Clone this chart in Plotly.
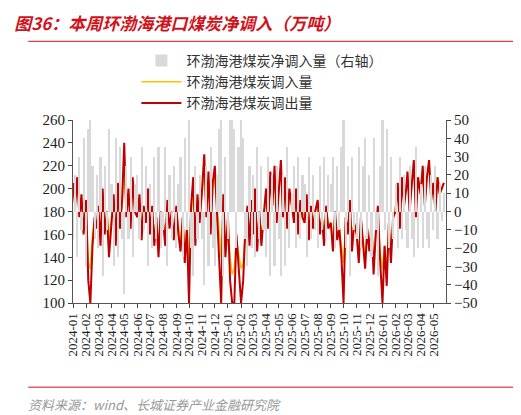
import pandas as pd
import plotly.graph_objects as go

months = pd.date_range("2024-01-01", "2026-05-01", freq="MS")
dates = [m + pd.Timedelta(days=d) for m in months for d in (0, 5, 10, 15, 20, 25)]

coal_out = [205, 185, 210, 175, 195, 160,
            190, 120, 100, 150, 175, 165,
            185, 150, 200, 160, 180, 140,
            170, 195, 150, 205, 165, 190,
            240, 175, 200, 165, 210, 180,
            175, 195, 155, 185, 170, 200,
            160, 185, 150, 175, 140, 180,
            170, 150, 190, 165, 180, 155,
            185, 160, 145, 175, 135, 165,
            100, 185, 210, 150, 195, 170,
            200, 230, 175, 215, 160, 205,
            220, 180, 150, 100, 195, 140,
            175, 120, 100, 100, 160, 135,
            100, 120, 165, 185, 150, 190,
            160, 200, 145, 180, 150, 175,
            200, 165, 215, 185, 220, 170,
            195, 225, 175, 210, 165, 200,
            185, 170, 200, 160, 190, 175,
            170, 195, 155, 185, 165, 180,
            190, 160, 175, 150, 185, 165,
            170, 145, 180, 155, 165, 140,
            100, 175, 160, 190, 145, 170,
            160, 135, 175, 150, 130, 165,
            145, 170, 125, 160, 185, 140,
            100, 150, 115, 170, 135, 175,
            180, 205, 165, 210, 185, 200,
            215, 180, 205, 225, 175, 210,
            195, 220, 185, 210, 225, 190,
            205, 180, 210, 195, 200, 205]

coal_in = [195, 190, 200, 185, 190, 175,
           180, 135, 130, 160, 170, 170,
           180, 160, 190, 170, 175, 155,
           175, 185, 165, 195, 175, 185,
           215, 185, 195, 175, 200, 185,
           180, 190, 165, 180, 175, 190,
           165, 180, 160, 170, 150, 175,
           170, 160, 180, 170, 175, 160,
           180, 165, 155, 170, 145, 165,
           135, 180, 195, 160, 190, 175,
           195, 215, 180, 205, 170, 200,
           210, 185, 165, 140, 185, 150,
           170, 140, 125, 130, 155, 145,
           130, 135, 160, 175, 160, 180,
           165, 190, 155, 175, 160, 175,
           190, 175, 205, 185, 210, 180,
           195, 215, 180, 200, 175, 195,
           185, 175, 195, 170, 185, 180,
           175, 190, 165, 180, 170, 180,
           185, 165, 175, 160, 180, 170,
           170, 155, 175, 160, 165, 150,
           135, 170, 165, 180, 155, 170,
           160, 145, 170, 155, 140, 160,
           150, 165, 135, 160, 175, 145,
           130, 150, 130, 165, 145, 170,
           185, 200, 175, 205, 190, 200,
           210, 190, 205, 220, 185, 205,
           200, 215, 190, 210, 220, 195,
           205, 190, 210, 200, 200, 205]

coal_net = [-15, 20, -25, 30, -10, 40,
            -30, 45, 55, 25, -15, 20,
            -20, 30, -35, 25, -10, 45,
            15, -30, 40, -25, 35, -15,
            -45, 25, -15, 30, -25, 15,
            20, -15, 35, -10, 25, -30,
            15, -20, 30, -15, 35, -20,
            -10, 35, -30, 20, -15, 25,
            -20, 15, 30, -25, 40, -10,
            55, -20, -35, 25, -15, 20,
            -15, -40, 25, -30, 35, -20,
            -30, 20, 45, 55, -35, 30,
            -15, 50, 55, 45, -20, 35,
            50, 40, -15, -30, 25, -20,
            20, -25, 35, -15, 25, -10,
            -25, 30, -35, 20, -30, 25,
            -15, -35, 20, -30, 35, -20,
            10, 25, -20, 30, -15, 20,
            15, -25, 30, -15, 20, -10,
            -20, 25, -10, 30, -15, 20,
            15, 30, -20, 25, -10, 35,
            55, -20, 25, -35, 30, -10,
            -15, 35, -20, 25, 40, -15,
            20, -25, 40, -10, -35, 25,
            50, -10, 45, -20, 30, -15,
            15, -20, 30, -15, 20, -10,
            -20, 25, -15, -25, 35, -20,
            15, -20, 25, -15, -20, 20,
            -10, 25, -15, 15, -5, 10]

serif = "Liberation Serif"
cjk = "Noto Sans CJK SC"

fig = go.Figure()
fig.add_trace(go.Bar(x=dates, y=coal_net, name="环渤海港煤炭净调入量（右轴）", marker_color="#d9d9d9",
                     marker_line_width=0, width=5 * 86400000, yaxis="y2"))
fig.add_trace(go.Scatter(x=dates, y=coal_in, name="环渤海港煤炭调入量", mode="lines",
                         line=dict(color="#ffc000", width=1.6)))
fig.add_trace(go.Scatter(x=dates, y=coal_out, name="环渤海港煤炭调出量", mode="lines",
                         line=dict(color="#c00000", width=2)))

fig.update_layout(
    width=521, height=415, margin=dict(l=65, r=83, t=112, b=120),
    plot_bgcolor="white", paper_bgcolor="white", bargap=0,
    showlegend=True,
    legend=dict(x=0.17, y=1.41, xanchor="left", yanchor="top", font=dict(family=cjk, size=14, color="#333"),
                tracegroupgap=0, itemwidth=40, bgcolor="rgba(0,0,0,0)"),
    title=dict(text="<b><i>图36：本周环渤海港口煤炭净调入（万吨）</i></b>", x=0.012, y=0.975,
               font=dict(family=cjk, size=17, color="#d0121b")),
    xaxis=dict(range=["2024-01-01", "2026-05-31"], tickformat="%Y-%m", dtick="M1", tickangle=-90,
               ticks="outside", ticklen=4, showgrid=False, showline=True, linecolor="#555",
               tickfont=dict(family=serif, size=13, color="#222")),
    yaxis=dict(range=[100, 260], dtick=20, ticks="outside", ticklen=4, showgrid=False, showline=True,
               linecolor="#555", tickfont=dict(family=serif, size=15, color="#222")),
    yaxis2=dict(range=[-50, 50], dtick=10, overlaying="y", side="right", ticks="outside", ticklen=4,
                showgrid=False, showline=True, linecolor="#555", zeroline=False,
                tickfont=dict(family=serif, size=15, color="#222")),
    shapes=[dict(type="line", xref="paper", yref="paper", x0=-0.12, x1=1.2, y0=1.43, y1=1.43,
                 line=dict(color="#d0121b", width=1)),
            dict(type="line", xref="paper", yref="paper", x0=-0.12, x1=1.2, y0=-0.46, y1=-0.46,
                 line=dict(color="#d0121b", width=1))],
    annotations=[dict(text="<i>资料来源：wind、长城证券产业金融研究院</i>", xref="paper", yref="paper",
                      x=-0.125, y=-0.49, xanchor="left", yanchor="top", showarrow=False,
                      font=dict(family=cjk, size=13, color="#999"))],
)

fig.write_html("out.html")
